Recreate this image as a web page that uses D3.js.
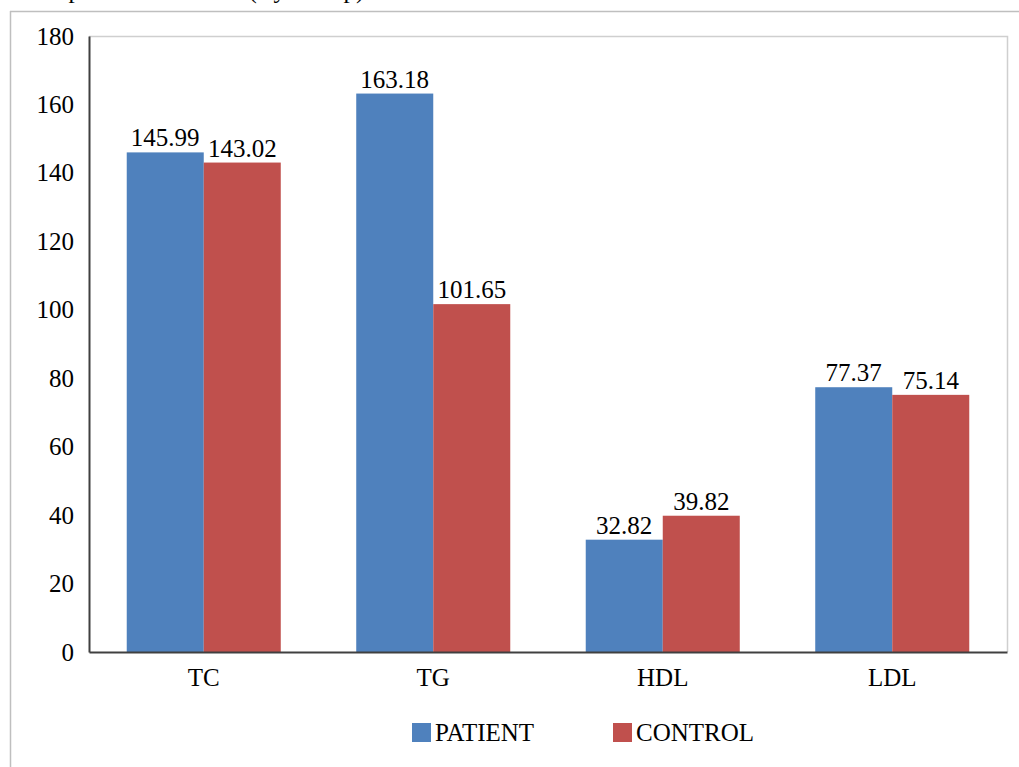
<!DOCTYPE html>
<html>
<head>
<meta charset="utf-8">
<script src="https://cdn.jsdelivr.net/npm/d3@7"></script>
<style>
  html, body { margin: 0; padding: 0; background: #fff; }
  svg { display: block; }
  text { font-family: "Liberation Serif", "Times New Roman", serif; fill: #000; }
</style>
</head>
<body>
<svg id="chart" width="1019" height="767"></svg>
<script>
// Lipid profile means for the two study groups
const categories = ["TC", "TG", "HDL", "LDL"];
const seriesNames = ["PATIENT", "CONTROL"];
const patientValues = [145.99, 163.18, 32.82, 77.37];
const controlValues = [143.02, 101.65, 39.82, 75.14];
const yTicks = [0, 20, 40, 60, 80, 100, 120, 140, 160, 180];
const seriesColors = ["#4f81bd", "#c0504d"];

const rows = categories.map((c, i) => ({
  category: c,
  values: [
    { series: seriesNames[0], value: patientValues[i] },
    { series: seriesNames[1], value: controlValues[i] }
  ]
}));

const svg = d3.select("#chart");
const W = 1019, H = 767;
const plot = { left: 89, right: 1007, top: 36, bottom: 652 };
const fontSize = 25;

// outer frame of the figure
svg.append("line").attr("x1", 10).attr("x2", W).attr("y1", 11.5).attr("y2", 11.5)
  .attr("stroke", "#bfbfbf").attr("stroke-width", 1.5);
svg.append("line").attr("x1", 10.5).attr("x2", 10.5).attr("y1", 11).attr("y2", H)
  .attr("stroke", "#bfbfbf").attr("stroke-width", 1.5);

// figure caption, mostly above the visible area
svg.append("text")
  .attr("x", 20).attr("y", -2)
  .attr("font-size", fontSize)
  .text("Comparison of Means (By Group)");

const x0 = d3.scaleBand().domain(categories).range([plot.left, plot.right]).padding(0);
const x1 = d3.scaleBand().domain(seriesNames).range([0, x0.bandwidth()]).paddingOuter(0.49).paddingInner(0);
const y = d3.scaleLinear().domain([0, 180]).range([plot.bottom, plot.top]);
const color = d3.scaleOrdinal().domain(seriesNames).range(seriesColors);

// plot area border (top and right)
svg.append("path")
  .attr("d", `M${plot.left},${plot.top + 0.5}H${plot.right + 0.5}V${plot.bottom}`)
  .attr("fill", "none").attr("stroke", "#cfcfcf").attr("stroke-width", 1.5);

// bars
const groups = svg.append("g").selectAll("g")
  .data(rows).join("g")
  .attr("transform", d => `translate(${x0(d.category)},0)`);

groups.selectAll("rect")
  .data(d => d.values).join("rect")
  .attr("x", d => x1(d.series))
  .attr("width", x1.bandwidth())
  .attr("y", d => y(d.value))
  .attr("height", d => y(0) - y(d.value))
  .attr("fill", d => color(d.series));

// value labels
groups.selectAll("text")
  .data(d => d.values).join("text")
  .attr("x", d => x1(d.series) + x1.bandwidth() / 2)
  .attr("y", d => y(d.value) - 6)
  .attr("text-anchor", "middle")
  .attr("font-size", fontSize)
  .text(d => d.value.toFixed(2));

// y axis
const yAxis = d3.axisLeft(y).tickValues(yTicks).tickSize(0).tickPadding(15).tickFormat(d3.format("d"));
const yg = svg.append("g").attr("transform", `translate(${plot.left},0)`).call(yAxis);
yg.select(".domain").attr("stroke", "#404040").attr("stroke-width", 2);
yg.selectAll("text").attr("font-size", fontSize).attr("font-family", "Liberation Serif, serif").attr("fill", "#000");

// x axis
const xAxis = d3.axisBottom(x0).tickSize(0).tickPadding(16);
const xg = svg.append("g").attr("transform", `translate(0,${plot.bottom})`).call(xAxis);
xg.select(".domain").attr("stroke", "#404040").attr("stroke-width", 2);
xg.selectAll("text").attr("font-size", fontSize).attr("font-family", "Liberation Serif, serif").attr("fill", "#000");

// legend
const legendX = [412, 613];
const legend = svg.append("g").selectAll("g")
  .data(seriesNames).join("g")
  .attr("transform", (d, i) => `translate(${legendX[i]},723)`);
legend.append("rect").attr("width", 19).attr("height", 19).attr("fill", d => color(d));
legend.append("text").attr("x", 23).attr("y", 18).attr("font-size", fontSize).text(d => d);
</script>
</body>
</html>
